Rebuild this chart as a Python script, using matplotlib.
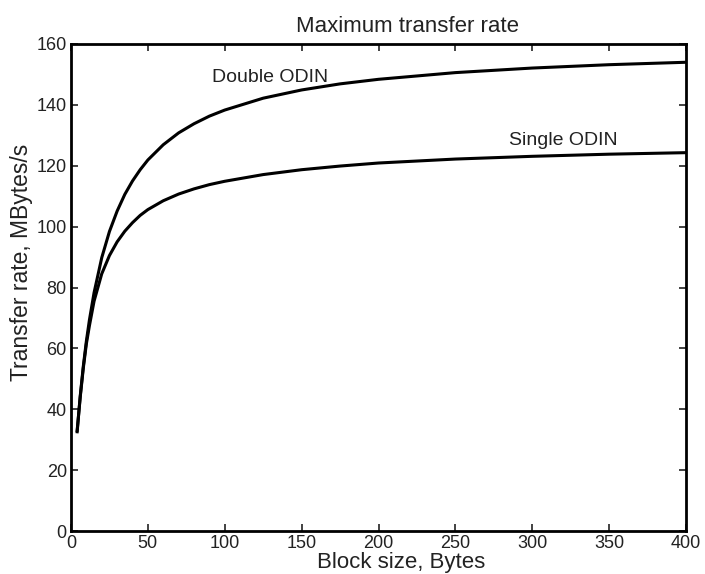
import matplotlib
matplotlib.use("Agg")
import matplotlib.pyplot as plt

block_size = [4, 6, 8, 10, 12, 15, 20, 25, 30, 35, 40, 45, 50, 60, 70, 80, 90, 100, 125, 150, 175, 200,
              250, 300, 350, 400]
double_odin = [32.6, 44.3, 54.1, 62.4, 69.4, 78.3, 89.8, 98.4, 105.1, 110.6, 115.0, 118.7, 121.9, 126.9,
               130.8, 133.8, 136.3, 138.3, 142.2, 144.9, 146.9, 148.4, 150.6, 152.1, 153.2, 154.0]
single_odin = [33.0, 44.0, 53.5, 61.5, 67.5, 75.5, 84.5, 90.5, 95.0, 98.5, 101.3, 103.7, 105.6, 108.5,
               110.7, 112.4, 113.8, 114.9, 117.1, 118.7, 119.9, 120.9, 122.2, 123.1, 123.8, 124.3]
x_ticks = [0, 50, 100, 150, 200, 250, 300, 350, 400]
y_ticks = [0, 20, 40, 60, 80, 100, 120, 140, 160]

plt.rcParams['font.family'] = ['Liberation Sans', 'DejaVu Sans']

fig = plt.figure(figsize=(7.05, 5.74), dpi=100)
ax = fig.add_axes([71/705, 43/574, 615/705, 487/574])

ax.plot(block_size, double_odin, color='black', lw=2.2, solid_joinstyle='round')
ax.plot(block_size, single_odin, color='black', lw=2.2, solid_joinstyle='round')

ax.text(92, 147.6, 'Double ODIN', fontsize=14, va='baseline', ha='left', color='#222222')
ax.text(285, 126.8, 'Single ODIN', fontsize=14, va='baseline', ha='left', color='#222222')

ax.set_xlim(0, 400)
ax.set_ylim(0, 160)
ax.set_xticks(x_ticks)
ax.set_yticks(y_ticks)
ax.tick_params(direction='in', top=True, right=True, labelsize=13, length=5, width=1.2,
               colors='#222222', pad=3)
for s in ax.spines.values():
    s.set_linewidth(2)
    s.set_color('black')

fig.text(408/705, 1 - 31.5/574, 'Maximum transfer rate', fontsize=16, ha='center', va='baseline',
         color='#222222')
fig.text(401/705, 1 - 568/574, 'Block size, Bytes', fontsize=16, ha='center', va='baseline',
         color='#222222')
fig.text(22/705, 1 - 262/574, 'Transfer rate, MBytes/s', fontsize=16.5, ha='center', va='center',
         rotation=90, color='#222222')

fig.savefig('out.png', dpi=100)
